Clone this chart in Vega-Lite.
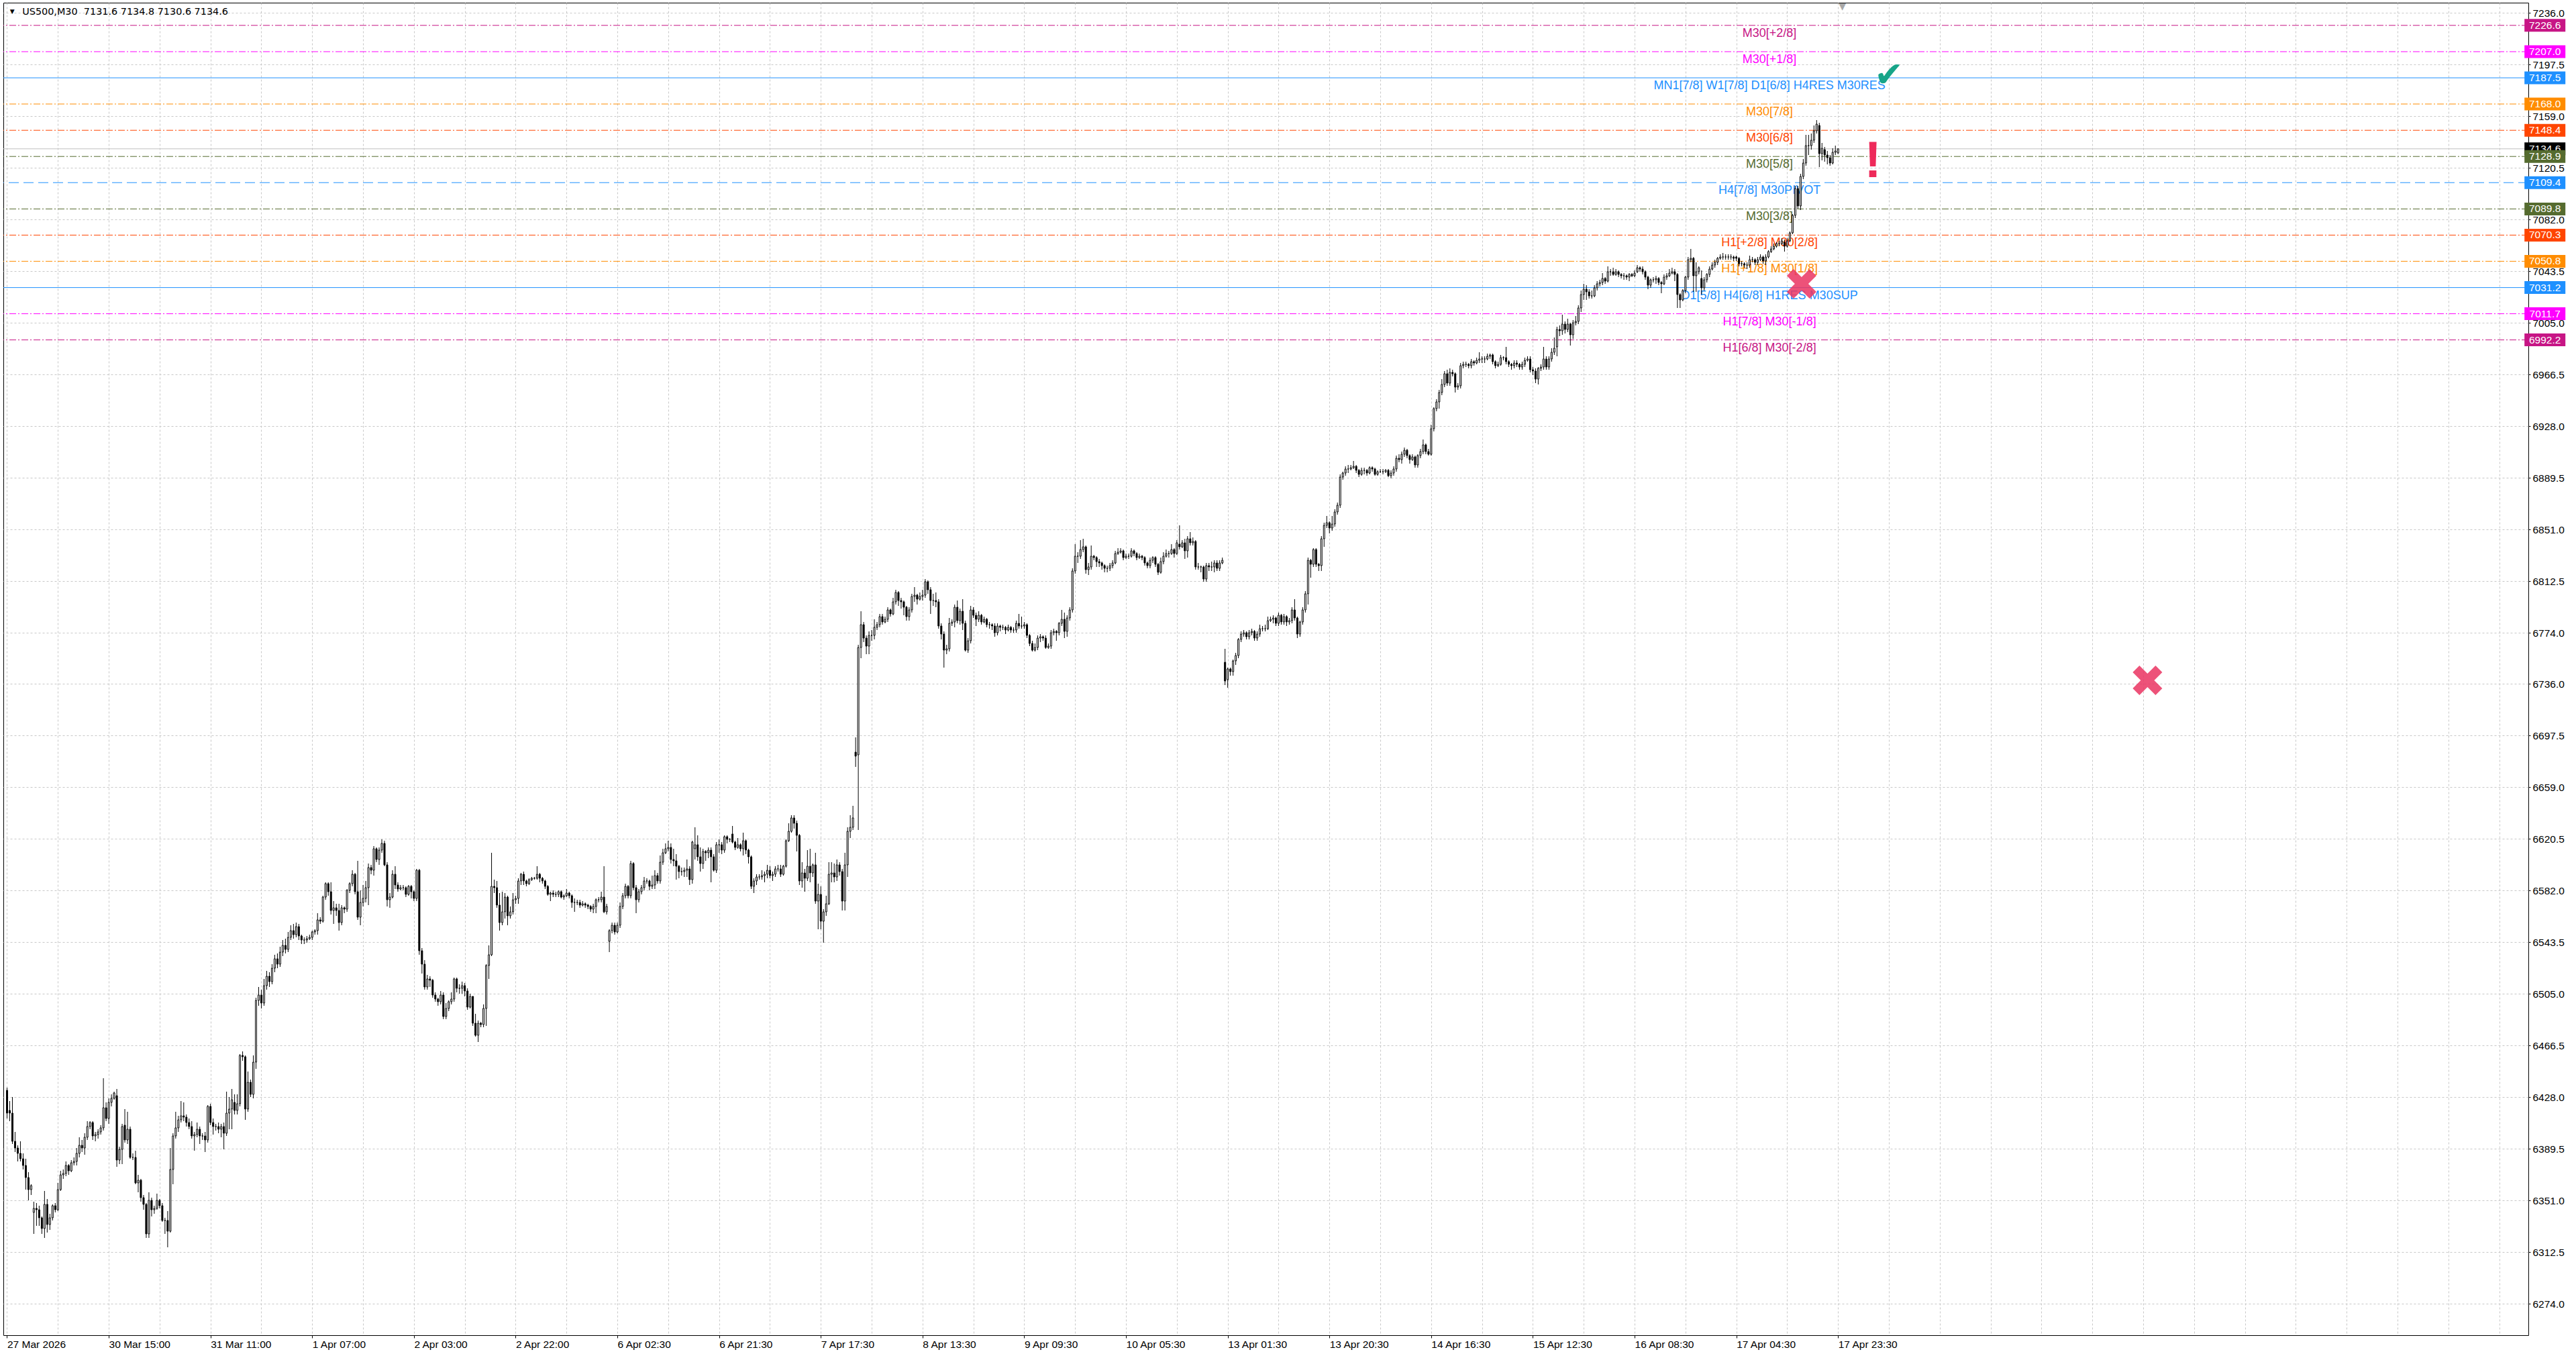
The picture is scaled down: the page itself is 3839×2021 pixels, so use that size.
{
  "$schema": "https://vega.github.io/schema/vega-lite/v6.json",
  "width": 3763,
  "height": 1986,
  "autosize": "none",
  "padding": {"left": 5, "top": 4, "right": 71, "bottom": 31},
  "background": "#ffffff",
  "config": {
    "view": {"stroke": "#000000", "strokeWidth": 1},
    "axis": {"gridColor": "#C8C8C8", "gridDash": [3, 3], "gridWidth": 1, "domain": false, "labelFont": "Liberation Sans", "labelFontSize": 15.5, "labelColor": "#000000", "tickColor": "#000000"}
  },
  "datasets": {
    "levels": [
      {"p": 7226.6, "lvl": "+2/8", "label": "M30[+2/8]"},
      {"p": 7207.0, "lvl": "+1/8", "label": "M30[+1/8]"},
      {"p": 7187.5, "lvl": "8/8", "label": "MN1[7/8] W1[7/8] D1[6/8] H4RES M30RES"},
      {"p": 7168.0, "lvl": "7/8", "label": "M30[7/8]"},
      {"p": 7148.4, "lvl": "6/8", "label": "M30[6/8]"},
      {"p": 7128.9, "lvl": "5/8", "label": "M30[5/8]"},
      {"p": 7109.4, "lvl": "4/8", "label": "H4[7/8] M30PIVOT"},
      {"p": 7089.8, "lvl": "3/8", "label": "M30[3/8]"},
      {"p": 7070.3, "lvl": "2/8", "label": "H1[+2/8] M30[2/8]"},
      {"p": 7050.8, "lvl": "1/8", "label": "H1[+1/8] M30[1/8]"},
      {"p": 7031.2, "lvl": "0/8", "label": "D1[5/8] H4[6/8] H1RES M30SUP"},
      {"p": 7011.7, "lvl": "-1/8", "label": "H1[7/8] M30[-1/8]"},
      {"p": 6992.2, "lvl": "-2/8", "label": "H1[6/8] M30[-2/8]"}
    ],
    "last": [{"p": 7134.6}],
    "marks": [
      {"kind": "check", "i": 703, "p": 7189},
      {"kind": "alert", "i": 697, "p": 7125},
      {"kind": "cross", "i": 670.4, "p": 7032},
      {"kind": "cross", "i": 799.6, "p": 6736.5},
      {"kind": "shift", "i": 685.6, "p": 7240.5}
    ],
    "info": [{"symbol": "US500,M30", "o": 7131.6, "h": 7134.8, "l": 7130.6, "c": 7134.6}],
    "bars": [
{"i":0,"o":6433,"h":6435,"l":6412,"c":6416},{"i":1,"o":6418,"h":6425,"l":6410,"c":6416},{"i":2,"o":6416,"h":6428,"l":6393,"c":6395},{"i":3,"o":6395,"h":6402,"l":6387,"c":6390},{"i":4,"o":6390,"h":6392,"l":6380,"c":6386},{"i":5,"o":6386,"h":6395,"l":6380,"c":6382},{"i":6,"o":6382,"h":6386,"l":6374,"c":6377},{"i":7,"o":6377,"h":6382,"l":6359,"c":6368},{"i":8,"o":6368,"h":6372,"l":6351,"c":6359},{"i":9,"o":6359,"h":6363,"l":6355,"c":6362},
{"i":10,"o":6342,"h":6350,"l":6326,"c":6345},{"i":11,"o":6345,"h":6349,"l":6332,"c":6344},{"i":12,"o":6344,"h":6347,"l":6332,"c":6338},{"i":13,"o":6338,"h":6339,"l":6326,"c":6330},{"i":14,"o":6330,"h":6358,"l":6323,"c":6348},{"i":15,"o":6348,"h":6352,"l":6327,"c":6333},{"i":16,"o":6333,"h":6341,"l":6329,"c":6338},{"i":17,"o":6338,"h":6348,"l":6336,"c":6347},{"i":18,"o":6347,"h":6349,"l":6342,"c":6344},{"i":19,"o":6344,"h":6364,"l":6343,"c":6359},
{"i":20,"o":6359,"h":6373,"l":6358,"c":6370},{"i":21,"o":6370,"h":6374,"l":6367,"c":6371},{"i":22,"o":6371,"h":6380,"l":6369,"c":6377},{"i":23,"o":6377,"h":6378,"l":6370,"c":6373},{"i":24,"o":6373,"h":6381,"l":6372,"c":6379},{"i":25,"o":6379,"h":6383,"l":6377,"c":6380},{"i":26,"o":6380,"h":6390,"l":6377,"c":6386},{"i":27,"o":6386,"h":6398,"l":6383,"c":6392},{"i":28,"o":6392,"h":6396,"l":6387,"c":6390},{"i":29,"o":6390,"h":6401,"l":6385,"c":6398},
{"i":30,"o":6398,"h":6410,"l":6396,"c":6406},{"i":31,"o":6406,"h":6410,"l":6404,"c":6409},{"i":32,"o":6409,"h":6410,"l":6396,"c":6399},{"i":33,"o":6399,"h":6402,"l":6395,"c":6400},{"i":34,"o":6400,"h":6404,"l":6397,"c":6402},{"i":35,"o":6402,"h":6407,"l":6400,"c":6405},{"i":36,"o":6405,"h":6442,"l":6403,"c":6420},{"i":37,"o":6420,"h":6424,"l":6410,"c":6412},{"i":38,"o":6412,"h":6427,"l":6408,"c":6424},{"i":39,"o":6424,"h":6430,"l":6421,"c":6427},
{"i":40,"o":6427,"h":6432,"l":6426,"c":6431},{"i":41,"o":6429,"h":6434,"l":6376,"c":6381},{"i":42,"o":6381,"h":6391,"l":6378,"c":6389},{"i":43,"o":6389,"h":6408,"l":6378,"c":6406},{"i":44,"o":6407,"h":6419,"l":6394,"c":6396},{"i":45,"o":6396,"h":6417,"l":6393,"c":6404},{"i":46,"o":6404,"h":6406,"l":6382,"c":6383},{"i":47,"o":6383,"h":6386,"l":6381,"c":6383},{"i":48,"o":6383,"h":6388,"l":6363,"c":6364},{"i":49,"o":6364,"h":6370,"l":6357,"c":6366},
{"i":50,"o":6366,"h":6367,"l":6350,"c":6353},{"i":51,"o":6353,"h":6355,"l":6344,"c":6348},{"i":52,"o":6348,"h":6349,"l":6323,"c":6326},{"i":53,"o":6326,"h":6357,"l":6323,"c":6351},{"i":54,"o":6351,"h":6353,"l":6339,"c":6344},{"i":55,"o":6344,"h":6347,"l":6341,"c":6345},{"i":56,"o":6345,"h":6356,"l":6344,"c":6351},{"i":57,"o":6351,"h":6352,"l":6345,"c":6347},{"i":58,"o":6347,"h":6349,"l":6335,"c":6336},{"i":59,"o":6336,"h":6338,"l":6326,"c":6336},
{"i":60,"o":6336,"h":6343,"l":6316,"c":6328},{"i":61,"o":6328,"h":6390,"l":6327,"c":6374},{"i":62,"o":6374,"h":6401,"l":6363,"c":6399},{"i":63,"o":6399,"h":6417,"l":6397,"c":6405},{"i":64,"o":6405,"h":6414,"l":6402,"c":6411},{"i":65,"o":6411,"h":6425,"l":6409,"c":6414},{"i":66,"o":6414,"h":6424,"l":6410,"c":6413},{"i":67,"o":6413,"h":6415,"l":6406,"c":6409},{"i":68,"o":6409,"h":6412,"l":6404,"c":6406},{"i":69,"o":6406,"h":6410,"l":6397,"c":6399},
{"i":70,"o":6399,"h":6402,"l":6388,"c":6400},{"i":71,"o":6400,"h":6409,"l":6398,"c":6404},{"i":72,"o":6404,"h":6406,"l":6393,"c":6399},{"i":73,"o":6399,"h":6401,"l":6396,"c":6399},{"i":74,"o":6399,"h":6402,"l":6387,"c":6396},{"i":75,"o":6396,"h":6422,"l":6394,"c":6421},{"i":76,"o":6421,"h":6423,"l":6407,"c":6409},{"i":77,"o":6409,"h":6412,"l":6400,"c":6406},{"i":78,"o":6406,"h":6408,"l":6403,"c":6406},{"i":79,"o":6406,"h":6409,"l":6401,"c":6404},
{"i":80,"o":6404,"h":6408,"l":6398,"c":6406},{"i":81,"o":6406,"h":6409,"l":6389,"c":6401},{"i":82,"o":6401,"h":6432,"l":6399,"c":6416},{"i":83,"o":6416,"h":6428,"l":6404,"c":6419},{"i":84,"o":6419,"h":6434,"l":6404,"c":6426},{"i":85,"o":6424,"h":6430,"l":6415,"c":6418},{"i":86,"o":6418,"h":6430,"l":6415,"c":6423},{"i":87,"o":6423,"h":6460,"l":6421,"c":6459},{"i":88,"o":6459,"h":6462,"l":6455,"c":6458},{"i":89,"o":6458,"h":6459,"l":6411,"c":6419},
{"i":90,"o":6419,"h":6447,"l":6417,"c":6439},{"i":91,"o":6439,"h":6441,"l":6428,"c":6430},{"i":92,"o":6430,"h":6459,"l":6427,"c":6454},{"i":93,"o":6454,"h":6502,"l":6449,"c":6500},{"i":94,"o":6500,"h":6510,"l":6496,"c":6504},{"i":95,"o":6504,"h":6508,"l":6494,"c":6498},{"i":96,"o":6498,"h":6516,"l":6496,"c":6511},{"i":97,"o":6511,"h":6522,"l":6508,"c":6518},{"i":98,"o":6518,"h":6521,"l":6510,"c":6514},{"i":99,"o":6514,"h":6527,"l":6512,"c":6524},
{"i":100,"o":6524,"h":6534,"l":6521,"c":6531},{"i":101,"o":6531,"h":6535,"l":6524,"c":6527},{"i":102,"o":6527,"h":6540,"l":6525,"c":6536},{"i":103,"o":6536,"h":6545,"l":6533,"c":6541},{"i":104,"o":6541,"h":6546,"l":6535,"c":6538},{"i":105,"o":6538,"h":6551,"l":6536,"c":6547},{"i":106,"o":6547,"h":6556,"l":6545,"c":6552},{"i":107,"o":6552,"h":6557,"l":6546,"c":6549},{"i":108,"o":6549,"h":6558,"l":6547,"c":6555},{"i":109,"o":6555,"h":6557,"l":6545,"c":6548},
{"i":110,"o":6548,"h":6549,"l":6542,"c":6545},{"i":111,"o":6545,"h":6547,"l":6542,"c":6545},{"i":112,"o":6545,"h":6548,"l":6543,"c":6546},{"i":113,"o":6546,"h":6549,"l":6545,"c":6547},{"i":114,"o":6547,"h":6552,"l":6545,"c":6551},{"i":115,"o":6551,"h":6553,"l":6549,"c":6552},{"i":116,"o":6552,"h":6565,"l":6549,"c":6560},{"i":117,"o":6560,"h":6562,"l":6557,"c":6559},{"i":118,"o":6559,"h":6578,"l":6558,"c":6577},{"i":119,"o":6577,"h":6588,"l":6575,"c":6587},
{"i":120,"o":6587,"h":6588,"l":6578,"c":6581},{"i":121,"o":6581,"h":6588,"l":6564,"c":6567},{"i":122,"o":6567,"h":6574,"l":6557,"c":6569},{"i":123,"o":6569,"h":6572,"l":6563,"c":6567},{"i":124,"o":6567,"h":6572,"l":6552,"c":6558},{"i":125,"o":6558,"h":6571,"l":6556,"c":6569},{"i":126,"o":6569,"h":6570,"l":6565,"c":6568},{"i":127,"o":6568,"h":6583,"l":6566,"c":6582},{"i":128,"o":6582,"h":6588,"l":6580,"c":6587},{"i":129,"o":6587,"h":6597,"l":6585,"c":6594},
{"i":130,"o":6594,"h":6595,"l":6579,"c":6581},{"i":131,"o":6581,"h":6604,"l":6560,"c":6562},{"i":132,"o":6562,"h":6582,"l":6556,"c":6573},{"i":133,"o":6573,"h":6586,"l":6570,"c":6576},{"i":134,"o":6576,"h":6589,"l":6573,"c":6584},{"i":135,"o":6584,"h":6602,"l":6571,"c":6599},{"i":136,"o":6599,"h":6601,"l":6594,"c":6597},{"i":137,"o":6597,"h":6615,"l":6593,"c":6613},{"i":138,"o":6613,"h":6614,"l":6603,"c":6605},{"i":139,"o":6605,"h":6614,"l":6601,"c":6612},
{"i":140,"o":6612,"h":6620,"l":6610,"c":6617},{"i":141,"o":6617,"h":6619,"l":6600,"c":6601},{"i":142,"o":6601,"h":6603,"l":6570,"c":6575},{"i":143,"o":6575,"h":6580,"l":6569,"c":6577},{"i":144,"o":6577,"h":6597,"l":6576,"c":6594},{"i":145,"o":6594,"h":6600,"l":6583,"c":6586},{"i":146,"o":6586,"h":6588,"l":6581,"c":6583},{"i":147,"o":6583,"h":6586,"l":6582,"c":6584},{"i":148,"o":6584,"h":6586,"l":6582,"c":6584},{"i":149,"o":6584,"h":6585,"l":6577,"c":6579},
{"i":150,"o":6579,"h":6586,"l":6578,"c":6585},{"i":151,"o":6585,"h":6586,"l":6576,"c":6581},{"i":152,"o":6581,"h":6582,"l":6574,"c":6576},{"i":153,"o":6576,"h":6598,"l":6574,"c":6597},{"i":154,"o":6597,"h":6598,"l":6534,"c":6537},{"i":155,"o":6537,"h":6539,"l":6520,"c":6527},{"i":156,"o":6527,"h":6530,"l":6508,"c":6510},{"i":157,"o":6510,"h":6519,"l":6508,"c":6516},{"i":158,"o":6516,"h":6518,"l":6510,"c":6515},{"i":159,"o":6515,"h":6516,"l":6502,"c":6504},
{"i":160,"o":6504,"h":6506,"l":6499,"c":6501},{"i":161,"o":6501,"h":6502,"l":6496,"c":6499},{"i":162,"o":6499,"h":6507,"l":6497,"c":6504},{"i":163,"o":6504,"h":6506,"l":6486,"c":6488},{"i":164,"o":6488,"h":6498,"l":6486,"c":6494},{"i":165,"o":6494,"h":6500,"l":6492,"c":6499},{"i":166,"o":6499,"h":6506,"l":6497,"c":6501},{"i":167,"o":6501,"h":6517,"l":6499,"c":6516},{"i":168,"o":6516,"h":6517,"l":6506,"c":6509},{"i":169,"o":6509,"h":6512,"l":6505,"c":6509},
{"i":170,"o":6509,"h":6514,"l":6505,"c":6511},{"i":171,"o":6511,"h":6513,"l":6503,"c":6507},{"i":172,"o":6507,"h":6509,"l":6493,"c":6495},{"i":173,"o":6495,"h":6505,"l":6494,"c":6503},{"i":174,"o":6503,"h":6503,"l":6481,"c":6483},{"i":175,"o":6483,"h":6490,"l":6473,"c":6474},{"i":176,"o":6474,"h":6485,"l":6469,"c":6483},{"i":177,"o":6483,"h":6484,"l":6480,"c":6482},{"i":178,"o":6482,"h":6497,"l":6480,"c":6494},{"i":179,"o":6494,"h":6527,"l":6481,"c":6526},
{"i":180,"o":6526,"h":6541,"l":6516,"c":6534},{"i":181,"o":6534,"h":6610,"l":6533,"c":6585},{"i":182,"o":6585,"h":6590,"l":6580,"c":6584},{"i":183,"o":6584,"h":6589,"l":6569,"c":6571},{"i":184,"o":6571,"h":6580,"l":6552,"c":6558},{"i":185,"o":6558,"h":6581,"l":6556,"c":6566},{"i":186,"o":6566,"h":6580,"l":6561,"c":6577},{"i":187,"o":6577,"h":6578,"l":6556,"c":6563},{"i":188,"o":6563,"h":6570,"l":6561,"c":6566},{"i":189,"o":6566,"h":6580,"l":6564,"c":6575},
{"i":190,"o":6575,"h":6578,"l":6572,"c":6576},{"i":191,"o":6576,"h":6591,"l":6572,"c":6589},{"i":192,"o":6589,"h":6595,"l":6586,"c":6594},{"i":193,"o":6594,"h":6596,"l":6586,"c":6589},{"i":194,"o":6589,"h":6590,"l":6585,"c":6587},{"i":195,"o":6587,"h":6591,"l":6586,"c":6590},{"i":196,"o":6590,"h":6592,"l":6589,"c":6591},{"i":197,"o":6591,"h":6592,"l":6590,"c":6591},{"i":198,"o":6591,"h":6600,"l":6590,"c":6594},{"i":199,"o":6594,"h":6595,"l":6588,"c":6591},
{"i":200,"o":6591,"h":6592,"l":6587,"c":6589},{"i":201,"o":6589,"h":6590,"l":6583,"c":6585},{"i":202,"o":6585,"h":6586,"l":6578,"c":6579},{"i":203,"o":6579,"h":6581,"l":6574,"c":6580},{"i":204,"o":6580,"h":6582,"l":6577,"c":6579},{"i":205,"o":6579,"h":6581,"l":6577,"c":6579},{"i":206,"o":6579,"h":6582,"l":6577,"c":6581},{"i":207,"o":6581,"h":6582,"l":6576,"c":6577},{"i":208,"o":6577,"h":6579,"l":6575,"c":6578},{"i":209,"o":6578,"h":6583,"l":6577,"c":6580},
{"i":210,"o":6580,"h":6581,"l":6576,"c":6578},{"i":211,"o":6578,"h":6579,"l":6569,"c":6573},{"i":212,"o":6573,"h":6576,"l":6566,"c":6573},{"i":213,"o":6573,"h":6575,"l":6571,"c":6573},{"i":214,"o":6573,"h":6575,"l":6569,"c":6571},{"i":215,"o":6571,"h":6574,"l":6570,"c":6572},{"i":216,"o":6572,"h":6573,"l":6569,"c":6571},{"i":217,"o":6571,"h":6572,"l":6568,"c":6570},{"i":218,"o":6570,"h":6571,"l":6566,"c":6568},{"i":219,"o":6568,"h":6572,"l":6565,"c":6570},
{"i":220,"o":6570,"h":6576,"l":6565,"c":6575},{"i":221,"o":6575,"h":6577,"l":6573,"c":6575},{"i":222,"o":6575,"h":6581,"l":6573,"c":6577},{"i":223,"o":6577,"h":6600,"l":6565,"c":6566},{"i":224,"o":6566,"h":6572,"l":6564,"c":6570},{"i":225,"o":6544,"h":6553,"l":6536,"c":6552},{"i":226,"o":6552,"h":6558,"l":6550,"c":6556},{"i":227,"o":6556,"h":6558,"l":6549,"c":6551},{"i":228,"o":6551,"h":6558,"l":6550,"c":6556},{"i":229,"o":6556,"h":6573,"l":6554,"c":6570},
{"i":230,"o":6570,"h":6580,"l":6568,"c":6578},{"i":231,"o":6578,"h":6587,"l":6576,"c":6585},{"i":232,"o":6585,"h":6586,"l":6576,"c":6578},{"i":233,"o":6578,"h":6604,"l":6576,"c":6602},{"i":234,"o":6602,"h":6603,"l":6582,"c":6584},{"i":235,"o":6584,"h":6586,"l":6565,"c":6575},{"i":236,"o":6575,"h":6583,"l":6573,"c":6581},{"i":237,"o":6581,"h":6586,"l":6579,"c":6584},{"i":238,"o":6584,"h":6592,"l":6582,"c":6589},{"i":239,"o":6589,"h":6591,"l":6587,"c":6589},
{"i":240,"o":6589,"h":6590,"l":6582,"c":6585},{"i":241,"o":6585,"h":6593,"l":6583,"c":6586},{"i":242,"o":6586,"h":6597,"l":6583,"c":6593},{"i":243,"o":6593,"h":6595,"l":6587,"c":6589},{"i":244,"o":6589,"h":6608,"l":6587,"c":6603},{"i":245,"o":6603,"h":6613,"l":6601,"c":6610},{"i":246,"o":6610,"h":6617,"l":6609,"c":6613},{"i":247,"o":6613,"h":6619,"l":6611,"c":6614},{"i":248,"o":6614,"h":6617,"l":6602,"c":6605},{"i":249,"o":6605,"h":6613,"l":6600,"c":6604},
{"i":250,"o":6604,"h":6609,"l":6590,"c":6600},{"i":251,"o":6600,"h":6601,"l":6591,"c":6596},{"i":252,"o":6596,"h":6599,"l":6593,"c":6596},{"i":253,"o":6596,"h":6599,"l":6592,"c":6597},{"i":254,"o":6597,"h":6605,"l":6592,"c":6598},{"i":255,"o":6598,"h":6600,"l":6586,"c":6590},{"i":256,"o":6590,"h":6619,"l":6587,"c":6618},{"i":257,"o":6613,"h":6629,"l":6605,"c":6616},{"i":258,"o":6616,"h":6623,"l":6604,"c":6607},{"i":259,"o":6607,"h":6614,"l":6596,"c":6602},
{"i":260,"o":6602,"h":6613,"l":6598,"c":6611},{"i":261,"o":6611,"h":6612,"l":6604,"c":6610},{"i":262,"o":6610,"h":6614,"l":6606,"c":6612},{"i":263,"o":6612,"h":6614,"l":6588,"c":6607},{"i":264,"o":6607,"h":6609,"l":6596,"c":6597},{"i":265,"o":6597,"h":6618,"l":6595,"c":6616},{"i":266,"o":6616,"h":6620,"l":6610,"c":6616},{"i":267,"o":6616,"h":6618,"l":6609,"c":6612},{"i":268,"o":6612,"h":6623,"l":6610,"c":6622},{"i":269,"o":6622,"h":6623,"l":6617,"c":6620},
{"i":270,"o":6620,"h":6621,"l":6618,"c":6620},{"i":271,"o":6624,"h":6630,"l":6617,"c":6618},{"i":272,"o":6618,"h":6619,"l":6612,"c":6614},{"i":273,"o":6614,"h":6621,"l":6613,"c":6616},{"i":274,"o":6616,"h":6617,"l":6611,"c":6613},{"i":275,"o":6613,"h":6625,"l":6608,"c":6619},{"i":276,"o":6619,"h":6620,"l":6609,"c":6612},{"i":277,"o":6612,"h":6613,"l":6602,"c":6607},{"i":278,"o":6607,"h":6608,"l":6583,"c":6585},{"i":279,"o":6585,"h":6591,"l":6580,"c":6589},
{"i":280,"o":6589,"h":6594,"l":6586,"c":6592},{"i":281,"o":6592,"h":6594,"l":6590,"c":6592},{"i":282,"o":6592,"h":6597,"l":6590,"c":6593},{"i":283,"o":6593,"h":6596,"l":6588,"c":6594},{"i":284,"o":6594,"h":6601,"l":6591,"c":6597},{"i":285,"o":6597,"h":6600,"l":6591,"c":6593},{"i":286,"o":6593,"h":6596,"l":6589,"c":6594},{"i":287,"o":6594,"h":6600,"l":6592,"c":6598},{"i":288,"o":6598,"h":6601,"l":6596,"c":6598},{"i":289,"o":6598,"h":6601,"l":6592,"c":6594},
{"i":290,"o":6594,"h":6601,"l":6593,"c":6600},{"i":291,"o":6600,"h":6620,"l":6599,"c":6619},{"i":292,"o":6619,"h":6632,"l":6618,"c":6626},{"i":293,"o":6626,"h":6638,"l":6625,"c":6636},{"i":294,"o":6636,"h":6638,"l":6628,"c":6632},{"i":295,"o":6632,"h":6634,"l":6611,"c":6623},{"i":296,"o":6623,"h":6624,"l":6586,"c":6589},{"i":297,"o":6589,"h":6603,"l":6584,"c":6595},{"i":298,"o":6595,"h":6598,"l":6581,"c":6591},{"i":299,"o":6591,"h":6612,"l":6589,"c":6600},
{"i":300,"o":6600,"h":6613,"l":6588,"c":6595},{"i":301,"o":6595,"h":6602,"l":6592,"c":6601},{"i":302,"o":6601,"h":6610,"l":6572,"c":6574},{"i":303,"o":6574,"h":6587,"l":6553,"c":6579},{"i":304,"o":6579,"h":6585,"l":6553,"c":6559},{"i":305,"o":6559,"h":6568,"l":6543,"c":6566},{"i":306,"o":6566,"h":6578,"l":6563,"c":6572},{"i":307,"o":6572,"h":6603,"l":6571,"c":6594},{"i":308,"o":6594,"h":6603,"l":6588,"c":6595},{"i":309,"o":6595,"h":6602,"l":6588,"c":6592},
{"i":310,"o":6592,"h":6605,"l":6589,"c":6601},{"i":311,"o":6601,"h":6603,"l":6593,"c":6596},{"i":312,"o":6596,"h":6598,"l":6567,"c":6574},{"i":313,"o":6574,"h":6610,"l":6567,"c":6601},{"i":314,"o":6601,"h":6629,"l":6592,"c":6626},{"i":315,"o":6626,"h":6638,"l":6621,"c":6629},{"i":316,"o":6629,"h":6645,"l":6627,"c":6636},{"i":317,"o":6685,"h":6696,"l":6674,"c":6682},{"i":318,"o":6683,"h":6765,"l":6627,"c":6763},{"i":319,"o":6763,"h":6790,"l":6755,"c":6780},
{"i":320,"o":6780,"h":6782,"l":6767,"c":6770},{"i":321,"o":6770,"h":6772,"l":6758,"c":6764},{"i":322,"o":6764,"h":6775,"l":6758,"c":6772},{"i":323,"o":6772,"h":6776,"l":6768,"c":6772},{"i":324,"o":6772,"h":6784,"l":6769,"c":6778},{"i":325,"o":6778,"h":6782,"l":6776,"c":6780},{"i":326,"o":6780,"h":6788,"l":6778,"c":6786},{"i":327,"o":6786,"h":6788,"l":6780,"c":6782},{"i":328,"o":6782,"h":6786,"l":6781,"c":6784},{"i":329,"o":6784,"h":6793,"l":6782,"c":6791},
{"i":330,"o":6791,"h":6792,"l":6786,"c":6788},{"i":331,"o":6788,"h":6800,"l":6787,"c":6797},{"i":332,"o":6797,"h":6806,"l":6795,"c":6804},{"i":333,"o":6804,"h":6805,"l":6794,"c":6798},{"i":334,"o":6798,"h":6800,"l":6792,"c":6797},{"i":335,"o":6797,"h":6798,"l":6787,"c":6793},{"i":336,"o":6793,"h":6794,"l":6783,"c":6786},{"i":337,"o":6786,"h":6793,"l":6783,"c":6791},{"i":338,"o":6791,"h":6803,"l":6789,"c":6801},{"i":339,"o":6801,"h":6808,"l":6797,"c":6802},
{"i":340,"o":6802,"h":6803,"l":6795,"c":6799},{"i":341,"o":6799,"h":6804,"l":6798,"c":6801},{"i":342,"o":6801,"h":6806,"l":6798,"c":6802},{"i":343,"o":6802,"h":6814,"l":6800,"c":6812},{"i":344,"o":6812,"h":6813,"l":6803,"c":6806},{"i":345,"o":6806,"h":6808,"l":6788,"c":6798},{"i":346,"o":6798,"h":6803,"l":6794,"c":6798},{"i":347,"o":6798,"h":6804,"l":6793,"c":6797},{"i":348,"o":6797,"h":6799,"l":6777,"c":6779},{"i":349,"o":6779,"h":6781,"l":6769,"c":6773},
{"i":350,"o":6773,"h":6775,"l":6748,"c":6761},{"i":351,"o":6761,"h":6765,"l":6758,"c":6762},{"i":352,"o":6762,"h":6785,"l":6760,"c":6781},{"i":353,"o":6781,"h":6784,"l":6779,"c":6782},{"i":354,"o":6782,"h":6795,"l":6778,"c":6793},{"i":355,"o":6793,"h":6798,"l":6781,"c":6783},{"i":356,"o":6783,"h":6792,"l":6780,"c":6790},{"i":357,"o":6790,"h":6799,"l":6776,"c":6781},{"i":358,"o":6781,"h":6783,"l":6760,"c":6761},{"i":359,"o":6761,"h":6770,"l":6759,"c":6768},
{"i":360,"o":6768,"h":6794,"l":6766,"c":6791},{"i":361,"o":6791,"h":6793,"l":6785,"c":6787},{"i":362,"o":6787,"h":6789,"l":6779,"c":6784},{"i":363,"o":6784,"h":6790,"l":6782,"c":6787},{"i":364,"o":6787,"h":6788,"l":6780,"c":6782},{"i":365,"o":6782,"h":6786,"l":6781,"c":6784},{"i":366,"o":6784,"h":6785,"l":6778,"c":6780},{"i":367,"o":6780,"h":6782,"l":6777,"c":6780},{"i":368,"o":6780,"h":6781,"l":6776,"c":6779},{"i":369,"o":6779,"h":6781,"l":6771,"c":6774},
{"i":370,"o":6774,"h":6781,"l":6772,"c":6779},{"i":371,"o":6779,"h":6780,"l":6775,"c":6778},{"i":372,"o":6778,"h":6780,"l":6776,"c":6778},{"i":373,"o":6778,"h":6779,"l":6773,"c":6776},{"i":374,"o":6776,"h":6780,"l":6775,"c":6778},{"i":375,"o":6778,"h":6779,"l":6774,"c":6776},{"i":376,"o":6776,"h":6778,"l":6774,"c":6776},{"i":377,"o":6776,"h":6783,"l":6774,"c":6781},{"i":378,"o":6781,"h":6788,"l":6777,"c":6779},{"i":379,"o":6779,"h":6786,"l":6777,"c":6779},
{"i":380,"o":6779,"h":6782,"l":6777,"c":6780},{"i":381,"o":6780,"h":6781,"l":6770,"c":6772},{"i":382,"o":6772,"h":6773,"l":6764,"c":6766},{"i":383,"o":6766,"h":6768,"l":6760,"c":6761},{"i":384,"o":6761,"h":6766,"l":6760,"c":6763},{"i":385,"o":6763,"h":6772,"l":6761,"c":6770},{"i":386,"o":6770,"h":6773,"l":6767,"c":6771},{"i":387,"o":6771,"h":6772,"l":6768,"c":6770},{"i":388,"o":6770,"h":6772,"l":6762,"c":6763},{"i":389,"o":6763,"h":6766,"l":6762,"c":6764},
{"i":390,"o":6764,"h":6776,"l":6762,"c":6774},{"i":391,"o":6774,"h":6777,"l":6772,"c":6775},{"i":392,"o":6775,"h":6776,"l":6768,"c":6774},{"i":393,"o":6774,"h":6782,"l":6772,"c":6781},{"i":394,"o":6781,"h":6791,"l":6779,"c":6784},{"i":395,"o":6784,"h":6789,"l":6770,"c":6775},{"i":396,"o":6775,"h":6787,"l":6771,"c":6785},{"i":397,"o":6785,"h":6793,"l":6783,"c":6791},{"i":398,"o":6791,"h":6822,"l":6789,"c":6820},{"i":399,"o":6820,"h":6840,"l":6818,"c":6831},
{"i":400,"o":6831,"h":6834,"l":6826,"c":6831},{"i":401,"o":6831,"h":6843,"l":6829,"c":6836},{"i":402,"o":6836,"h":6844,"l":6834,"c":6838},{"i":403,"o":6838,"h":6839,"l":6818,"c":6821},{"i":404,"o":6821,"h":6826,"l":6817,"c":6823},{"i":405,"o":6823,"h":6839,"l":6821,"c":6831},{"i":406,"o":6831,"h":6832,"l":6828,"c":6830},{"i":407,"o":6830,"h":6831,"l":6823,"c":6827},{"i":408,"o":6827,"h":6829,"l":6823,"c":6826},{"i":409,"o":6826,"h":6827,"l":6821,"c":6824},
{"i":410,"o":6824,"h":6825,"l":6819,"c":6822},{"i":411,"o":6822,"h":6824,"l":6819,"c":6822},{"i":412,"o":6822,"h":6826,"l":6820,"c":6824},{"i":413,"o":6824,"h":6828,"l":6822,"c":6826},{"i":414,"o":6826,"h":6835,"l":6825,"c":6833},{"i":415,"o":6833,"h":6837,"l":6832,"c":6834},{"i":416,"o":6834,"h":6837,"l":6833,"c":6835},{"i":417,"o":6835,"h":6836,"l":6828,"c":6830},{"i":418,"o":6830,"h":6833,"l":6829,"c":6831},{"i":419,"o":6831,"h":6833,"l":6829,"c":6831},
{"i":420,"o":6831,"h":6837,"l":6830,"c":6835},{"i":421,"o":6835,"h":6836,"l":6831,"c":6833},{"i":422,"o":6833,"h":6834,"l":6828,"c":6830},{"i":423,"o":6830,"h":6833,"l":6829,"c":6831},{"i":424,"o":6831,"h":6832,"l":6828,"c":6830},{"i":425,"o":6830,"h":6831,"l":6824,"c":6826},{"i":426,"o":6826,"h":6827,"l":6822,"c":6824},{"i":427,"o":6824,"h":6830,"l":6822,"c":6828},{"i":428,"o":6828,"h":6831,"l":6826,"c":6830},{"i":429,"o":6830,"h":6831,"l":6823,"c":6825},
{"i":430,"o":6825,"h":6826,"l":6817,"c":6819},{"i":431,"o":6819,"h":6830,"l":6818,"c":6827},{"i":432,"o":6827,"h":6834,"l":6825,"c":6831},{"i":433,"o":6831,"h":6836,"l":6830,"c":6833},{"i":434,"o":6833,"h":6835,"l":6830,"c":6833},{"i":435,"o":6833,"h":6840,"l":6832,"c":6836},{"i":436,"o":6836,"h":6837,"l":6830,"c":6833},{"i":437,"o":6833,"h":6843,"l":6832,"c":6841},{"i":438,"o":6840,"h":6854,"l":6836,"c":6838},{"i":439,"o":6838,"h":6843,"l":6837,"c":6841},
{"i":440,"o":6841,"h":6844,"l":6829,"c":6835},{"i":441,"o":6835,"h":6846,"l":6830,"c":6844},{"i":442,"o":6844,"h":6849,"l":6839,"c":6841},{"i":443,"o":6841,"h":6845,"l":6839,"c":6842},{"i":444,"o":6842,"h":6843,"l":6821,"c":6823},{"i":445,"o":6823,"h":6826,"l":6821,"c":6823},{"i":446,"o":6823,"h":6824,"l":6819,"c":6823},{"i":447,"o":6823,"h":6824,"l":6812,"c":6814},{"i":448,"o":6814,"h":6826,"l":6812,"c":6824},{"i":449,"o":6824,"h":6826,"l":6820,"c":6823},
{"i":450,"o":6823,"h":6827,"l":6820,"c":6823},{"i":451,"o":6823,"h":6828,"l":6819,"c":6826},{"i":452,"o":6826,"h":6828,"l":6820,"c":6822},{"i":453,"o":6822,"h":6828,"l":6820,"c":6826},{"i":454,"o":6826,"h":6830,"l":6825,"c":6828},{"i":455,"o":6752,"h":6762,"l":6735,"c":6738},{"i":456,"o":6739,"h":6748,"l":6733,"c":6747},{"i":457,"o":6747,"h":6748,"l":6742,"c":6745},{"i":458,"o":6745,"h":6754,"l":6742,"c":6753},{"i":459,"o":6753,"h":6759,"l":6750,"c":6757},
{"i":460,"o":6757,"h":6770,"l":6755,"c":6769},{"i":461,"o":6769,"h":6775,"l":6767,"c":6773},{"i":462,"o":6773,"h":6776,"l":6771,"c":6774},{"i":463,"o":6774,"h":6775,"l":6769,"c":6771},{"i":464,"o":6771,"h":6776,"l":6769,"c":6774},{"i":465,"o":6774,"h":6777,"l":6772,"c":6775},{"i":466,"o":6775,"h":6776,"l":6768,"c":6770},{"i":467,"o":6770,"h":6775,"l":6768,"c":6773},{"i":468,"o":6773,"h":6780,"l":6771,"c":6777},{"i":469,"o":6777,"h":6779,"l":6775,"c":6777},
{"i":470,"o":6777,"h":6780,"l":6775,"c":6777},{"i":471,"o":6777,"h":6786,"l":6776,"c":6783},{"i":472,"o":6783,"h":6786,"l":6782,"c":6784},{"i":473,"o":6784,"h":6787,"l":6781,"c":6785},{"i":474,"o":6785,"h":6786,"l":6779,"c":6781},{"i":475,"o":6781,"h":6789,"l":6779,"c":6787},{"i":476,"o":6787,"h":6788,"l":6780,"c":6782},{"i":477,"o":6782,"h":6788,"l":6780,"c":6786},{"i":478,"o":6786,"h":6787,"l":6779,"c":6782},{"i":479,"o":6782,"h":6785,"l":6780,"c":6783},
{"i":480,"o":6783,"h":6793,"l":6781,"c":6791},{"i":481,"o":6791,"h":6799,"l":6783,"c":6785},{"i":482,"o":6785,"h":6786,"l":6770,"c":6773},{"i":483,"o":6773,"h":6783,"l":6771,"c":6782},{"i":484,"o":6782,"h":6793,"l":6780,"c":6791},{"i":485,"o":6791,"h":6805,"l":6789,"c":6803},{"i":486,"o":6803,"h":6830,"l":6795,"c":6828},{"i":487,"o":6828,"h":6829,"l":6815,"c":6825},{"i":488,"o":6825,"h":6837,"l":6823,"c":6836},{"i":489,"o":6836,"h":6837,"l":6823,"c":6825},
{"i":490,"o":6825,"h":6826,"l":6820,"c":6824},{"i":491,"o":6824,"h":6846,"l":6820,"c":6844},{"i":492,"o":6844,"h":6856,"l":6838,"c":6854},{"i":493,"o":6854,"h":6861,"l":6852,"c":6856},{"i":494,"o":6856,"h":6857,"l":6848,"c":6852},{"i":495,"o":6852,"h":6861,"l":6850,"c":6855},{"i":496,"o":6855,"h":6866,"l":6853,"c":6864},{"i":497,"o":6864,"h":6871,"l":6862,"c":6869},{"i":498,"o":6869,"h":6892,"l":6867,"c":6890},{"i":499,"o":6890,"h":6894,"l":6888,"c":6893},
{"i":500,"o":6893,"h":6898,"l":6891,"c":6896},{"i":501,"o":6896,"h":6899,"l":6893,"c":6896},{"i":502,"o":6896,"h":6899,"l":6895,"c":6897},{"i":503,"o":6897,"h":6902,"l":6896,"c":6898},{"i":504,"o":6898,"h":6899,"l":6893,"c":6895},{"i":505,"o":6895,"h":6896,"l":6890,"c":6892},{"i":506,"o":6892,"h":6897,"l":6891,"c":6895},{"i":507,"o":6895,"h":6897,"l":6892,"c":6895},{"i":508,"o":6895,"h":6896,"l":6891,"c":6893},{"i":509,"o":6893,"h":6898,"l":6892,"c":6897},
{"i":510,"o":6897,"h":6898,"l":6894,"c":6896},{"i":511,"o":6896,"h":6897,"l":6891,"c":6892},{"i":512,"o":6892,"h":6895,"l":6891,"c":6894},{"i":513,"o":6894,"h":6896,"l":6893,"c":6894},{"i":514,"o":6894,"h":6896,"l":6892,"c":6894},{"i":515,"o":6894,"h":6896,"l":6893,"c":6895},{"i":516,"o":6895,"h":6896,"l":6890,"c":6891},{"i":517,"o":6891,"h":6895,"l":6889,"c":6893},{"i":518,"o":6893,"h":6898,"l":6891,"c":6896},{"i":519,"o":6896,"h":6906,"l":6894,"c":6904},
{"i":520,"o":6904,"h":6907,"l":6901,"c":6903},{"i":521,"o":6903,"h":6909,"l":6900,"c":6907},{"i":522,"o":6907,"h":6912,"l":6905,"c":6910},{"i":523,"o":6910,"h":6911,"l":6904,"c":6906},{"i":524,"o":6906,"h":6907,"l":6900,"c":6903},{"i":525,"o":6903,"h":6907,"l":6902,"c":6905},{"i":526,"o":6905,"h":6906,"l":6897,"c":6899},{"i":527,"o":6899,"h":6907,"l":6897,"c":6906},{"i":528,"o":6906,"h":6911,"l":6904,"c":6909},{"i":529,"o":6909,"h":6918,"l":6907,"c":6914},
{"i":530,"o":6914,"h":6915,"l":6907,"c":6909},{"i":531,"o":6909,"h":6911,"l":6906,"c":6907},{"i":532,"o":6907,"h":6929,"l":6906,"c":6926},{"i":533,"o":6926,"h":6942,"l":6924,"c":6941},{"i":534,"o":6941,"h":6948,"l":6939,"c":6946},{"i":535,"o":6946,"h":6955,"l":6941,"c":6953},{"i":536,"o":6953,"h":6963,"l":6951,"c":6959},{"i":537,"o":6959,"h":6969,"l":6957,"c":6967},{"i":538,"o":6967,"h":6970,"l":6958,"c":6960},{"i":539,"o":6960,"h":6971,"l":6958,"c":6968},
{"i":540,"o":6968,"h":6970,"l":6965,"c":6967},{"i":541,"o":6967,"h":6968,"l":6953,"c":6957},{"i":542,"o":6957,"h":6960,"l":6955,"c":6958},{"i":543,"o":6958,"h":6975,"l":6956,"c":6973},{"i":544,"o":6973,"h":6976,"l":6971,"c":6974},{"i":545,"o":6974,"h":6976,"l":6972,"c":6974},{"i":546,"o":6974,"h":6975,"l":6971,"c":6973},{"i":547,"o":6973,"h":6978,"l":6971,"c":6976},{"i":548,"o":6976,"h":6977,"l":6973,"c":6975},{"i":549,"o":6975,"h":6979,"l":6974,"c":6977},
{"i":550,"o":6977,"h":6983,"l":6975,"c":6978},{"i":551,"o":6978,"h":6980,"l":6975,"c":6978},{"i":552,"o":6978,"h":6980,"l":6975,"c":6978},{"i":553,"o":6978,"h":6982,"l":6977,"c":6980},{"i":554,"o":6980,"h":6982,"l":6978,"c":6981},{"i":555,"o":6981,"h":6982,"l":6974,"c":6976},{"i":556,"o":6976,"h":6977,"l":6971,"c":6973},{"i":557,"o":6973,"h":6976,"l":6972,"c":6974},{"i":558,"o":6974,"h":6981,"l":6973,"c":6979},{"i":559,"o":6979,"h":6980,"l":6977,"c":6979},
{"i":560,"o":6979,"h":6987,"l":6974,"c":6976},{"i":561,"o":6976,"h":6977,"l":6972,"c":6974},{"i":562,"o":6974,"h":6975,"l":6970,"c":6973},{"i":563,"o":6973,"h":6977,"l":6971,"c":6975},{"i":564,"o":6975,"h":6977,"l":6972,"c":6974},{"i":565,"o":6974,"h":6975,"l":6970,"c":6972},{"i":566,"o":6972,"h":6976,"l":6970,"c":6974},{"i":567,"o":6974,"h":6979,"l":6972,"c":6977},{"i":568,"o":6977,"h":6980,"l":6976,"c":6978},{"i":569,"o":6978,"h":6980,"l":6968,"c":6970},
{"i":570,"o":6970,"h":6972,"l":6966,"c":6969},{"i":571,"o":6969,"h":6971,"l":6960,"c":6963},{"i":572,"o":6963,"h":6972,"l":6959,"c":6971},{"i":573,"o":6971,"h":6974,"l":6969,"c":6972},{"i":574,"o":6972,"h":6987,"l":6970,"c":6978},{"i":575,"o":6978,"h":6980,"l":6970,"c":6972},{"i":576,"o":6972,"h":6980,"l":6970,"c":6978},{"i":577,"o":6978,"h":6986,"l":6976,"c":6983},{"i":578,"o":6983,"h":6994,"l":6981,"c":6986},{"i":579,"o":6987,"h":7002,"l":6980,"c":7000},
{"i":580,"o":7000,"h":7003,"l":6995,"c":6999},{"i":581,"o":6999,"h":7011,"l":6996,"c":7004},{"i":582,"o":7004,"h":7006,"l":6997,"c":7000},{"i":583,"o":7000,"h":7008,"l":6998,"c":7004},{"i":584,"o":7004,"h":7005,"l":6988,"c":6996},{"i":585,"o":6996,"h":7007,"l":6993,"c":7005},{"i":586,"o":7005,"h":7010,"l":7003,"c":7006},{"i":587,"o":7006,"h":7018,"l":7004,"c":7016},{"i":588,"o":7016,"h":7029,"l":7013,"c":7026},{"i":589,"o":7026,"h":7034,"l":7022,"c":7030},
{"i":590,"o":7030,"h":7033,"l":7022,"c":7028},{"i":591,"o":7028,"h":7030,"l":7023,"c":7025},{"i":592,"o":7025,"h":7029,"l":7023,"c":7025},{"i":593,"o":7025,"h":7033,"l":7024,"c":7031},{"i":594,"o":7031,"h":7036,"l":7029,"c":7034},{"i":595,"o":7034,"h":7037,"l":7032,"c":7035},{"i":596,"o":7035,"h":7042,"l":7033,"c":7038},{"i":597,"o":7038,"h":7039,"l":7034,"c":7036},{"i":598,"o":7036,"h":7047,"l":7035,"c":7043},{"i":599,"o":7043,"h":7045,"l":7040,"c":7043},
{"i":600,"o":7043,"h":7046,"l":7040,"c":7041},{"i":601,"o":7041,"h":7045,"l":7040,"c":7043},{"i":602,"o":7043,"h":7044,"l":7039,"c":7041},{"i":603,"o":7041,"h":7042,"l":7038,"c":7040},{"i":604,"o":7040,"h":7042,"l":7037,"c":7040},{"i":605,"o":7040,"h":7041,"l":7037,"c":7039},{"i":606,"o":7039,"h":7042,"l":7036,"c":7041},{"i":607,"o":7041,"h":7042,"l":7039,"c":7040},{"i":608,"o":7040,"h":7044,"l":7039,"c":7042},{"i":609,"o":7043,"h":7048,"l":7042,"c":7046},
{"i":610,"o":7046,"h":7047,"l":7043,"c":7045},{"i":611,"o":7045,"h":7047,"l":7041,"c":7043},{"i":612,"o":7043,"h":7044,"l":7037,"c":7039},{"i":613,"o":7039,"h":7040,"l":7030,"c":7033},{"i":614,"o":7033,"h":7038,"l":7031,"c":7037},{"i":615,"o":7037,"h":7039,"l":7035,"c":7037},{"i":616,"o":7037,"h":7040,"l":7034,"c":7038},{"i":617,"o":7038,"h":7039,"l":7033,"c":7035},{"i":618,"o":7035,"h":7036,"l":7027,"c":7034},{"i":619,"o":7034,"h":7041,"l":7033,"c":7039},
{"i":620,"o":7039,"h":7042,"l":7037,"c":7040},{"i":621,"o":7040,"h":7045,"l":7039,"c":7042},{"i":622,"o":7042,"h":7046,"l":7041,"c":7043},{"i":623,"o":7043,"h":7045,"l":7036,"c":7041},{"i":624,"o":7041,"h":7042,"l":7016,"c":7026},{"i":625,"o":7026,"h":7027,"l":7016,"c":7022},{"i":626,"o":7022,"h":7030,"l":7021,"c":7029},{"i":627,"o":7029,"h":7040,"l":7027,"c":7039},{"i":628,"o":7039,"h":7054,"l":7037,"c":7052},{"i":629,"o":7052,"h":7060,"l":7050,"c":7053},
{"i":630,"o":7053,"h":7054,"l":7028,"c":7040},{"i":631,"o":7040,"h":7050,"l":7028,"c":7043},{"i":632,"o":7043,"h":7047,"l":7041,"c":7046},{"i":633,"o":7038,"h":7044,"l":7026,"c":7031},{"i":634,"o":7031,"h":7039,"l":7029,"c":7037},{"i":635,"o":7037,"h":7042,"l":7035,"c":7041},{"i":636,"o":7041,"h":7047,"l":7039,"c":7045},{"i":637,"o":7045,"h":7050,"l":7044,"c":7048},{"i":638,"o":7048,"h":7052,"l":7046,"c":7050},{"i":639,"o":7050,"h":7054,"l":7048,"c":7053},
{"i":640,"o":7053,"h":7056,"l":7052,"c":7054},{"i":641,"o":7054,"h":7057,"l":7052,"c":7054},{"i":642,"o":7054,"h":7056,"l":7052,"c":7054},{"i":643,"o":7054,"h":7056,"l":7052,"c":7054},{"i":644,"o":7054,"h":7056,"l":7052,"c":7054},{"i":645,"o":7054,"h":7055,"l":7051,"c":7053},{"i":646,"o":7054,"h":7055,"l":7051,"c":7053},{"i":647,"o":7053,"h":7054,"l":7047,"c":7049},{"i":648,"o":7049,"h":7051,"l":7047,"c":7049},{"i":649,"o":7049,"h":7050,"l":7046,"c":7048},
{"i":650,"o":7048,"h":7050,"l":7045,"c":7048},{"i":651,"o":7048,"h":7055,"l":7046,"c":7052},{"i":652,"o":7052,"h":7054,"l":7050,"c":7052},{"i":653,"o":7052,"h":7053,"l":7048,"c":7050},{"i":654,"o":7050,"h":7054,"l":7048,"c":7052},{"i":655,"o":7052,"h":7056,"l":7051,"c":7054},{"i":656,"o":7054,"h":7055,"l":7049,"c":7051},{"i":657,"o":7051,"h":7056,"l":7048,"c":7054},{"i":658,"o":7054,"h":7059,"l":7053,"c":7058},{"i":659,"o":7058,"h":7062,"l":7057,"c":7060},
{"i":660,"o":7060,"h":7064,"l":7059,"c":7062},{"i":661,"o":7062,"h":7065,"l":7061,"c":7064},{"i":662,"o":7064,"h":7066,"l":7062,"c":7064},{"i":663,"o":7064,"h":7068,"l":7063,"c":7066},{"i":664,"o":7065,"h":7067,"l":7058,"c":7062},{"i":665,"o":7062,"h":7068,"l":7061,"c":7066},{"i":666,"o":7066,"h":7073,"l":7065,"c":7072},{"i":667,"o":7072,"h":7086,"l":7071,"c":7085},{"i":668,"o":7085,"h":7107,"l":7083,"c":7105},{"i":669,"o":7105,"h":7107,"l":7090,"c":7092},
{"i":670,"o":7092,"h":7116,"l":7089,"c":7114},{"i":671,"o":7114,"h":7127,"l":7112,"c":7124},{"i":672,"o":7124,"h":7145,"l":7122,"c":7137},{"i":673,"o":7137,"h":7145,"l":7130,"c":7137},{"i":674,"o":7137,"h":7146,"l":7134,"c":7141},{"i":675,"o":7141,"h":7152,"l":7139,"c":7148},{"i":676,"o":7148,"h":7156,"l":7146,"c":7153},{"i":677,"o":7152,"h":7154,"l":7121,"c":7131},{"i":678,"o":7131,"h":7139,"l":7126,"c":7135},{"i":679,"o":7134,"h":7136,"l":7125,"c":7130},
{"i":680,"o":7130,"h":7133,"l":7123,"c":7128},{"i":681,"o":7128,"h":7130,"l":7122,"c":7124},{"i":682,"o":7124,"h":7135,"l":7123,"c":7132},{"i":683,"o":7132,"h":7137,"l":7130,"c":7133},{"i":684,"o":7131.6,"h":7134.8,"l":7130.6,"c":7134.6}
    ]
  },
  "layer": [
    {
      "data": {"name": "bars"},
      "mark": {"type": "rule", "color": "#000000", "strokeWidth": 1, "opacity": 0, "clip": true},
      "encoding": {
        "x": {
          "field": "i", "type": "quantitative",
          "scale": {"domain": [-0.125, 940.625], "nice": false, "zero": false},
          "axis": {
            "orient": "bottom", "title": null, "grid": true, "domain": false,
            "values": [0, 19, 38, 57, 76, 95, 114, 133, 152, 171, 190, 209, 228, 247, 266, 285, 304, 323, 342, 361, 380, 399, 418, 437, 456, 475, 494, 513, 532, 551, 570, 589, 608, 627, 646, 665, 684, 703, 722, 741, 760, 779, 798, 817, 836, 855, 874, 893, 912, 931],
            "labelExpr": "datum.value % 38 === 0 && datum.value <= 684 ? ['27 Mar 2026','30 Mar 15:00','31 Mar 11:00','1 Apr 07:00','2 Apr 03:00','2 Apr 22:00','6 Apr 02:30','6 Apr 21:30','7 Apr 17:30','8 Apr 13:30','9 Apr 09:30','10 Apr 05:30','13 Apr 01:30','13 Apr 20:30','14 Apr 16:30','15 Apr 12:30','16 Apr 08:30','17 Apr 04:30','17 Apr 23:30'][datum.value / 38] : ''",
            "labelAlign": "left", "labelBaseline": "top", "labelPadding": 2, "labelOverlap": false, "labelFlush": false,
            "tickSize": 4,
            "tickOpacity": {"condition": {"test": "datum.value % 38 === 0 && datum.value <= 684", "value": 1}, "value": 0}
          }
        },
        "y": {
          "field": "l", "type": "quantitative",
          "scale": {"domain": [6250.5, 7243.5], "nice": false, "zero": false},
          "axis": {
            "orient": "right", "title": null, "grid": true, "domain": false,
            "values": [7236.0, 7197.5, 7159.0, 7120.5, 7082.0, 7043.5, 7005.0, 6966.5, 6928.0, 6889.5, 6851.0, 6812.5, 6774.0, 6736.0, 6697.5, 6659.0, 6620.5, 6582.0, 6543.5, 6505.0, 6466.5, 6428.0, 6389.5, 6351.0, 6312.5, 6274.0],
            "format": ".1f", "labelAlign": "left", "labelBaseline": "middle", "tickSize": 3, "labelPadding": 3, "labelOverlap": false
          }
        },
        "y2": {"field": "h"}
      }
    },
    {
      "data": {"name": "levels"},
      "mark": {"type": "rule"},
      "encoding": {
        "y": {"field": "p", "type": "quantitative", "title": null, "scale": {"domain": [6250.5, 7243.5], "nice": false, "zero": false}},
        "color": {"field": "lvl", "type": "nominal", "legend": null, "scale": {"domain": ["+2/8", "+1/8", "8/8", "7/8", "6/8", "5/8", "4/8", "3/8", "2/8", "1/8", "0/8", "-1/8", "-2/8"], "range": ["#C71585", "#FF00FF", "#1E90FF", "#FF8C00", "#FF4500", "#556B2F", "#1E90FF", "#556B2F", "#FF4500", "#FF8C00", "#1E90FF", "#FF00FF", "#C71585"]}},
        "strokeDash": {"field": "lvl", "type": "nominal", "legend": null, "scale": {"domain": ["+2/8", "+1/8", "8/8", "7/8", "6/8", "5/8", "4/8", "3/8", "2/8", "1/8", "0/8", "-1/8", "-2/8"], "range": [[10, 3, 2, 3], [10, 3, 2, 3], [1, 0], [10, 3, 2, 3], [10, 3, 2, 3], [10, 3, 2, 3], [15, 7], [10, 3, 2, 3], [10, 3, 2, 3], [10, 3, 2, 3], [1, 0], [10, 3, 2, 3], [10, 3, 2, 3]]}},
        "strokeWidth": {"field": "lvl", "type": "ordinal", "legend": null, "scale": {"domain": ["+2/8", "+1/8", "8/8", "7/8", "6/8", "5/8", "4/8", "3/8", "2/8", "1/8", "0/8", "-1/8", "-2/8"], "range": [1, 1, 2.5, 1, 1, 1, 1.2, 1, 1, 1, 1.4, 1, 1]}}
      }
    },
    {
      "data": {"name": "last"},
      "mark": {"type": "rule", "color": "#C0C0C0", "strokeWidth": 1},
      "encoding": {
        "y": {"field": "p", "type": "quantitative", "title": null, "scale": {"domain": [6250.5, 7243.5], "nice": false, "zero": false}}
      }
    },
    {
      "data": {"name": "levels"},
      "mark": {"type": "text", "font": "Liberation Sans", "fontSize": 18, "align": "center", "baseline": "alphabetic", "dy": 17},
      "encoding": {
        "x": {"datum": 658.4, "type": "quantitative", "title": null, "scale": {"domain": [-0.125, 940.625], "nice": false, "zero": false}},
        "y": {"field": "p", "type": "quantitative", "title": null, "scale": {"domain": [6250.5, 7243.5], "nice": false, "zero": false}},
        "text": {"field": "label"},
        "color": {"field": "lvl", "type": "nominal", "legend": null}
      }
    },
    {
      "data": {"name": "bars"},
      "mark": {"type": "rule", "color": "#000000", "strokeWidth": 1, "clip": true},
      "encoding": {
        "x": {"field": "i", "type": "quantitative", "title": null, "scale": {"domain": [-0.125, 940.625], "nice": false, "zero": false}},
        "y": {"field": "l", "type": "quantitative", "title": null, "scale": {"domain": [6250.5, 7243.5], "nice": false, "zero": false}},
        "y2": {"field": "h"}
      }
    },
    {
      "data": {"name": "bars"},
      "mark": {"type": "bar", "size": 2, "stroke": "#000000", "strokeWidth": 1, "clip": true},
      "encoding": {
        "x": {"field": "i", "type": "quantitative", "title": null, "scale": {"domain": [-0.125, 940.625], "nice": false, "zero": false}},
        "y": {"field": "o", "type": "quantitative", "title": null, "scale": {"domain": [6250.5, 7243.5], "nice": false, "zero": false}},
        "y2": {"field": "c"},
        "fill": {"condition": {"test": "datum.c < datum.o", "value": "#000000"}, "value": "#ffffff"}
      }
    },
    {
      "data": {"name": "last"},
      "mark": {"type": "tick", "orient": "horizontal", "size": 61, "thickness": 19, "opacity": 1, "color": "#000000"},
      "encoding": {
        "x": {"datum": 948.07, "type": "quantitative", "title": null, "scale": {"domain": [-0.125, 940.625], "nice": false, "zero": false}},
        "y": {"field": "p", "type": "quantitative", "title": null, "scale": {"domain": [6250.5, 7243.5], "nice": false, "zero": false}}
      }
    },
    {
      "data": {"name": "last"},
      "mark": {"type": "text", "font": "Liberation Sans", "fontSize": 15.5, "align": "center", "baseline": "middle", "color": "#ffffff"},
      "encoding": {
        "x": {"datum": 948.07, "type": "quantitative", "title": null, "scale": {"domain": [-0.125, 940.625], "nice": false, "zero": false}},
        "y": {"field": "p", "type": "quantitative", "title": null, "scale": {"domain": [6250.5, 7243.5], "nice": false, "zero": false}},
        "text": {"field": "p", "type": "quantitative", "format": ".1f"}
      }
    },
    {
      "data": {"name": "levels"},
      "mark": {"type": "tick", "orient": "horizontal", "size": 61, "thickness": 19, "opacity": 1},
      "encoding": {
        "x": {"datum": 948.07, "type": "quantitative", "title": null, "scale": {"domain": [-0.125, 940.625], "nice": false, "zero": false}},
        "y": {"field": "p", "type": "quantitative", "title": null, "scale": {"domain": [6250.5, 7243.5], "nice": false, "zero": false}},
        "color": {"field": "lvl", "type": "nominal", "legend": null}
      }
    },
    {
      "data": {"name": "levels"},
      "mark": {"type": "text", "font": "Liberation Sans", "fontSize": 15.5, "align": "center", "baseline": "middle", "color": "#ffffff"},
      "encoding": {
        "x": {"datum": 948.07, "type": "quantitative", "title": null, "scale": {"domain": [-0.125, 940.625], "nice": false, "zero": false}},
        "y": {"field": "p", "type": "quantitative", "title": null, "scale": {"domain": [6250.5, 7243.5], "nice": false, "zero": false}},
        "text": {"field": "p", "type": "quantitative", "format": ".1f"}
      }
    },
    {
      "data": {"name": "marks"},
      "transform": [{"filter": "datum.kind === 'check'"}],
      "mark": {"type": "text", "text": "✔", "font": "DejaVu Sans", "fontSize": 52, "align": "center", "baseline": "middle", "color": "#17A589"},
      "encoding": {
        "x": {"field": "i", "type": "quantitative", "title": null, "scale": {"domain": [-0.125, 940.625], "nice": false, "zero": false}},
        "y": {"field": "p", "type": "quantitative", "title": null, "scale": {"domain": [6250.5, 7243.5], "nice": false, "zero": false}}
      }
    },
    {
      "data": {"name": "marks"},
      "transform": [{"filter": "datum.kind === 'alert'"}],
      "mark": {"type": "text", "text": "!", "font": "Liberation Sans", "fontWeight": "bold", "fontSize": 76, "align": "center", "baseline": "middle", "color": "#EE2A5A"},
      "encoding": {
        "x": {"field": "i", "type": "quantitative", "title": null, "scale": {"domain": [-0.125, 940.625], "nice": false, "zero": false}},
        "y": {"field": "p", "type": "quantitative", "title": null, "scale": {"domain": [6250.5, 7243.5], "nice": false, "zero": false}}
      }
    },
    {
      "data": {"name": "marks"},
      "transform": [{"filter": "datum.kind === 'cross'"}],
      "mark": {"type": "text", "text": "✖", "font": "DejaVu Sans", "fontSize": 66, "align": "center", "baseline": "middle", "color": "#EB3562", "opacity": 0.85},
      "encoding": {
        "x": {"field": "i", "type": "quantitative", "title": null, "scale": {"domain": [-0.125, 940.625], "nice": false, "zero": false}},
        "y": {"field": "p", "type": "quantitative", "title": null, "scale": {"domain": [6250.5, 7243.5], "nice": false, "zero": false}}
      }
    },
    {
      "data": {"name": "marks"},
      "transform": [{"filter": "datum.kind === 'shift'"}],
      "mark": {"type": "text", "text": "▼", "font": "DejaVu Sans", "fontSize": 14, "align": "center", "baseline": "middle", "color": "#A8A8A8"},
      "encoding": {
        "x": {"field": "i", "type": "quantitative", "title": null, "scale": {"domain": [-0.125, 940.625], "nice": false, "zero": false}},
        "y": {"field": "p", "type": "quantitative", "title": null, "scale": {"domain": [6250.5, 7243.5], "nice": false, "zero": false}}
      }
    },
    {
      "data": {"name": "info"},
      "mark": {"type": "text", "text": "▼", "font": "DejaVu Sans", "fontSize": 9, "align": "center", "baseline": "middle", "color": "#000000"},
      "encoding": {
        "x": {"datum": 1.95, "type": "quantitative", "title": null, "scale": {"domain": [-0.125, 940.625], "nice": false, "zero": false}},
        "y": {"datum": 7237, "type": "quantitative", "title": null, "scale": {"domain": [6250.5, 7243.5], "nice": false, "zero": false}}
      }
    },
    {
      "data": {"name": "info"},
      "mark": {"type": "text", "font": "DejaVu Sans", "fontSize": 14.4, "align": "left", "baseline": "alphabetic", "color": "#000000"},
      "encoding": {
        "x": {"datum": 5.7, "type": "quantitative", "title": null, "scale": {"domain": [-0.125, 940.625], "nice": false, "zero": false}},
        "y": {"datum": 7234.6, "type": "quantitative", "title": null, "scale": {"domain": [6250.5, 7243.5], "nice": false, "zero": false}},
        "text": {"value": "US500,M30\u00a0 7131.6 7134.8 7130.6 7134.6"}
      }
    }
  ]
}
